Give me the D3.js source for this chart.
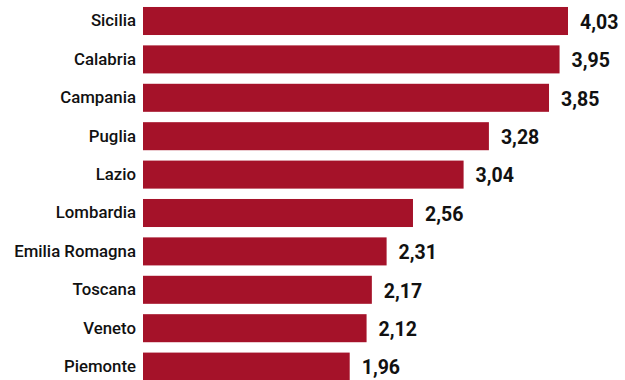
<!DOCTYPE html>
<html>
<head>
<meta charset="utf-8">
<script src="https://cdn.jsdelivr.net/npm/d3@7"></script>
<style>
  body { margin: 0; background: #fff; }
  .cat { font-family: Roboto, sans-serif; font-weight: 500; font-size: 16.8px; fill: #111; }
  .val { font-family: Roboto, sans-serif; font-weight: 700; font-size: 19.5px; fill: #111; }
</style>
</head>
<body>
<div class="container"></div>
<script>
var regions = ['Sicilia', 'Calabria', 'Campania', 'Puglia', 'Lazio',
               'Lombardia', 'Emilia Romagna', 'Toscana', 'Veneto', 'Piemonte'];
var values = [4.03, 3.95, 3.85, 3.28, 3.04, 2.56, 2.31, 2.17, 2.12, 1.96];
var valueLabels = ['4,03', '3,95', '3,85', '3,28', '3,04', '2,56', '2,31', '2,17', '2,12', '1,96'];

var drawChart = function () {
    const WIDTH = 625;
    const HEIGHT = 380;
    const LEFT = 143;
    const BAR_COLOR = '#a51229';

    var rows = regions.map(function (r, i) {
        return {name: r, value: values[i], label: valueLabels[i]};
    });

    var xScale = d3.scaleLinear().domain([0, 4.03]).range([LEFT, 568]);
    var yScale = d3.scaleBand().domain(regions)
        .range([1.8, 385.8])
        .paddingInner(0.27)
        .paddingOuter(0.135);

    var svg = d3.select('.container').append('svg')
        .attr('width', WIDTH)
        .attr('height', HEIGHT);

    svg.selectAll('.bar').data(rows)
        .enter().append('rect')
        .attr('class', 'bar')
        .attr('x', xScale(0))
        .attr('y', function (d) {return yScale(d.name);})
        .attr('width', function (d) {return xScale(d.value) - xScale(0);})
        .attr('height', yScale.bandwidth())
        .attr('fill', BAR_COLOR);

    // region names, right aligned against the bars
    svg.append('g')
        .attr('transform', 'translate(' + (LEFT - 7) + ',0)')
        .call(d3.axisLeft(yScale).tickSize(0).tickPadding(0))
        .call(function (g) {g.select('.domain').remove();})
        .selectAll('text')
        .attr('class', 'cat')
        .attr('font-family', null)
        .attr('font-size', null)
        .attr('fill', null);

    svg.selectAll('.val').data(rows)
        .enter().append('text')
        .attr('class', 'val')
        .attr('x', function (d) {return xScale(d.value) + 12;})
        .attr('y', function (d) {return yScale(d.name) + yScale.bandwidth() / 2 + 1;})
        .attr('dy', '0.35em')
        .text(function (d) {return d.label;});
};

window.onload = drawChart();
</script>
</body>
</html>
